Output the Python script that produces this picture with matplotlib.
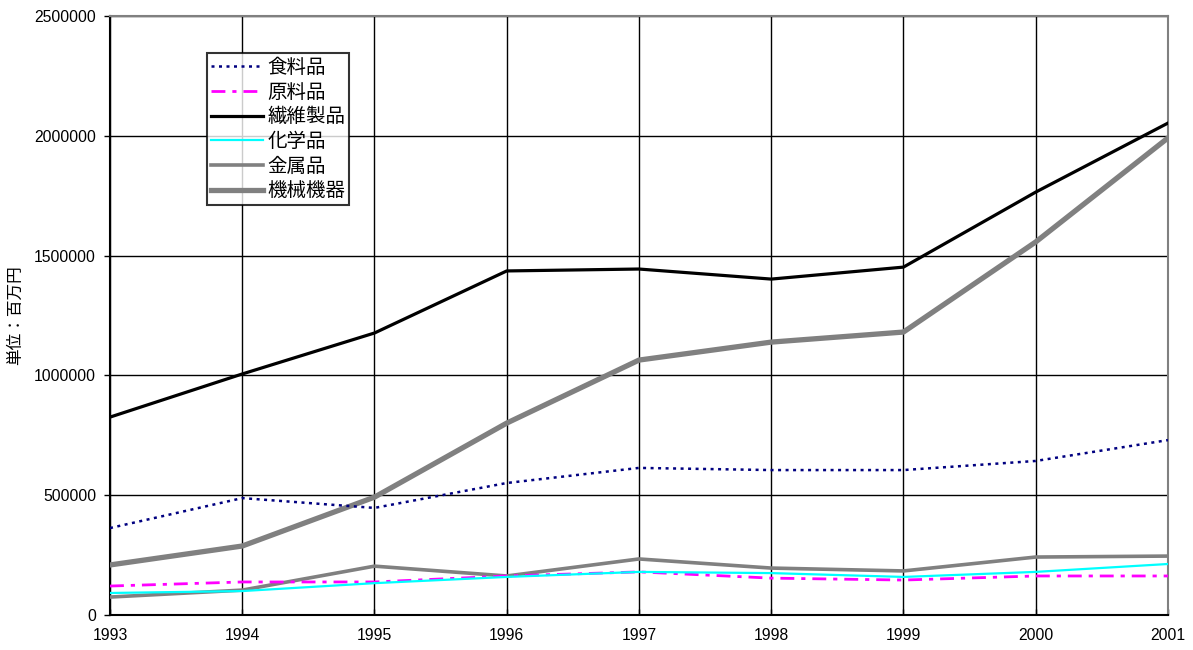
import matplotlib
matplotlib.use("Agg")
import matplotlib.pyplot as plt

plt.rcParams['font.family'] = ['Liberation Sans', 'Noto Sans CJK JP', 'DejaVu Sans']

years = [1993, 1994, 1995, 1996, 1997, 1998, 1999, 2000, 2001]

food = [363000, 488000, 447000, 551000, 614000, 605000, 605000, 643000, 730000]
raw = [121000, 138000, 138000, 163000, 180000, 154000, 146000, 163000, 163000]
textile = [826000, 1006000, 1177000, 1436000, 1444000, 1402000, 1452000, 1765000, 2053000]
chemical = [92000, 100000, 133000, 159000, 180000, 175000, 159000, 180000, 213000]
metal = [75000, 104000, 204000, 163000, 234000, 196000, 184000, 242000, 246000]
machinery = [209000, 288000, 492000, 801000, 1064000, 1139000, 1181000, 1557000, 1991000]

series_names = ["食料品", "原料品", "繊維製品", "化学品", "金属品", "機械機器"]
y_ticks = [0, 500000, 1000000, 1500000, 2000000, 2500000]
y_label = "単位：百万円"

fig = plt.figure(figsize=(11.93, 6.5), dpi=100)
ax = fig.add_axes([0.0922, 0.0538, 0.8868, 0.9216])

ax.plot(years, food, color="#000080", lw=1.8, ls=(0, (1.2, 1.8)), label=series_names[0], zorder=4)
ax.plot(years, raw, color="#FF00FF", lw=2.0, ls=(0, (5, 2.5, 1.5, 2.5)), label=series_names[1], zorder=4)
ax.plot(years, textile, color="black", lw=2.3, label=series_names[2], zorder=5)
ax.plot(years, chemical, color="#00FFFF", lw=1.6, label=series_names[3], zorder=4)
ax.plot(years, metal, color="#808080", lw=2.6, label=series_names[4], zorder=3)
ax.plot(years, machinery, color="#808080", lw=3.8, label=series_names[5], zorder=3)

ax.set_xlim(1993, 2001)
ax.set_ylim(0, 2500000)
ax.set_xticks(years)
ax.set_yticks(y_ticks)
ax.set_yticklabels([str(v) for v in y_ticks])
ax.grid(True, color="black", lw=1.0)
ax.set_axisbelow(True)

for side in ("left", "bottom"):
    ax.spines[side].set_color("black")
    ax.spines[side].set_linewidth(1.5)
for side in ("top", "right"):
    ax.spines[side].set_color("#808080")
    ax.spines[side].set_linewidth(1.5)

ax.tick_params(axis="y", direction="out", length=4.5, width=1, labelsize=11.3, pad=5.5)
ax.tick_params(axis="x", direction="in", length=4, width=1, labelsize=11.3, pad=9)

ax.set_ylabel(y_label, fontsize=12, labelpad=7,
              family=['Noto Sans CJK JP', 'DejaVu Sans'])

leg = ax.legend(loc="upper left", bbox_to_anchor=(0.0917, 0.938),
                prop={'family': ['Noto Sans CJK JP', 'DejaVu Sans'], 'size': 14},
                frameon=True, fancybox=False, edgecolor="black",
                handlelength=2.7, handletextpad=0.2, labelspacing=0.19,
                borderpad=0.2, borderaxespad=0)
leg.get_frame().set_linewidth(1.5)
leg.set_zorder(10)

fig.savefig("out.png", dpi=100, facecolor="white")
